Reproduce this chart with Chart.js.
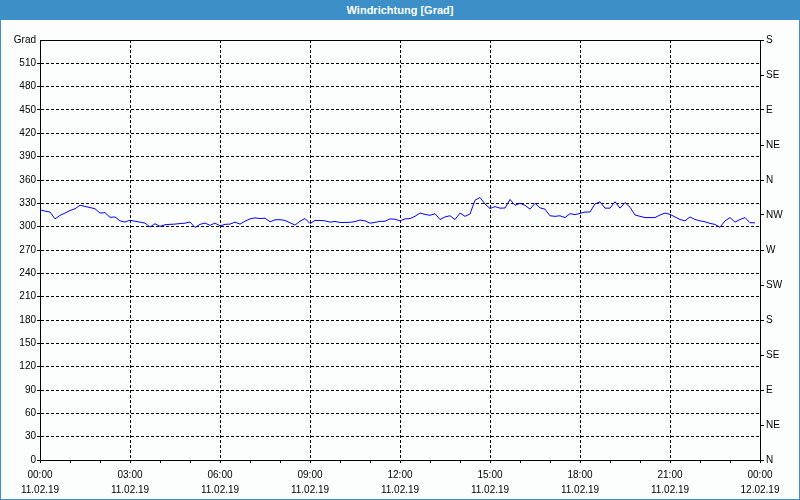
<!DOCTYPE html>
<html><head><meta charset="utf-8">
<script src="https://cdn.jsdelivr.net/npm/chart.js@4.4.1/dist/chart.umd.min.js"></script>
<style>
html,body{margin:0;padding:0;background:#fff}
#wrap{position:relative;width:800px;height:500px;background:#fcfefd;overflow:hidden}
#c{position:absolute;left:0;top:0}
#title{position:absolute;left:0;top:0;width:800px;height:20px;background:#3c8fc7;color:#fff;font:bold 11px "Liberation Sans",sans-serif;text-align:center;line-height:20px}
#frame{position:absolute;left:0;top:0;width:800px;height:500px;box-sizing:border-box;border:1px solid #3c8fc7;pointer-events:none}
</style></head>
<body>
<div id="wrap">
<canvas id="c" width="800" height="500"></canvas>
<div id="frame"></div>
<div id="title">Windrichtung [Grad]</div>
</div>
<script>
// Wind direction (degrees), one reading every 10 minutes from 11.02.19 00:00
const sampleMinutes = 10;
const windDirection = [
321.7,320.0,318.8,310.0,314.5,317.5,320.8,323.0,327.5,326.0,
324.6,323.0,317.5,318.0,312.0,312.5,307.5,306.0,308.3,307.0,
305.8,304.6,299.6,303.8,300.4,302.5,303.0,303.3,304.0,304.5,
306.0,299.0,303.0,304.6,301.7,304.6,301.0,303.0,303.3,305.8,
303.3,307.0,310.0,311.3,310.4,311.0,306.3,308.8,309.0,308.0,
305.0,302.0,307.0,310.5,304.0,308.0,308.0,307.5,305.8,306.7,
305.4,305.4,305.6,306.5,308.5,307.5,304.5,305.5,306.8,307.0,
310.0,309.6,307.5,310.0,310.4,313.3,317.5,315.8,314.6,316.7,
309.2,312.5,314.0,309.2,317.5,313.3,316.3,334.0,337.5,329.2,
323.3,325.8,323.8,324.0,335.0,327.5,330.0,327.5,322.5,330.0,
324.2,322.5,314.0,313.3,314.0,311.7,316.7,315.5,317.0,318.8,
318.8,329.2,332.0,323.8,323.8,332.0,323.8,331.0,325.0,315.0,
313.3,311.7,311.7,311.7,315.0,317.5,315.8,312.5,309.2,307.5,
312.5,309.2,307.5,306.3,304.2,302.9,299.2,307.5,311.7,305.8,
309.2,311.7,305.0,305.0
];
const yLeftTop = 540, yStep = 30, yLeftUnit = 'Grad';
const compassLabels = ['N','NE','E','SE','S','SW','W','NW','N','NE','E','SE','S'];
const compassStep = 45;
const xTickTimes = ['00:00','03:00','06:00','09:00','12:00','15:00','18:00','21:00','00:00'];
const xTickDates = ['11.02.19','11.02.19','11.02.19','11.02.19','11.02.19','11.02.19','11.02.19','11.02.19','12.02.19'];
const xMajorMinutes = 180, xMinorMinutes = 60, xSpanMinutes = 1440;

const points = windDirection.map((v, i) => ({x: i * sampleMinutes, y: v}));
const FONT = {family: '"Liberation Sans", sans-serif', size: 10};

const framePlugin = {
  id: 'frame',
  afterDraw(chart) {
    const {ctx, chartArea: a} = chart;
    ctx.save();
    ctx.strokeStyle = '#000'; ctx.lineWidth = 1;
    ctx.beginPath();
    ctx.moveTo(Math.round(a.left) + 0.5, Math.round(a.top) + 0.5);
    ctx.lineTo(Math.round(a.right) + 0.5, Math.round(a.top) + 0.5);
    ctx.stroke();
    ctx.restore();
  }
};

new Chart(document.getElementById('c'), {
  type: 'line',
  data: { datasets: [{ data: points, borderColor: '#0000ff', borderWidth: 1, pointRadius: 0, tension: 0, fill: false, yAxisID: 'y' }] },
  options: {
    responsive: false, animation: false,
    layout: { padding: { top: 40, left: 0, right: 0, bottom: 0 } },
    plugins: { legend: {display: false}, tooltip: {enabled: false}, title: {display: false} },
    scales: {
      x: {
        type: 'linear', min: 0, max: xSpanMinutes,
        afterFit(s) { s.height = 40; },
        border: { display: true, color: '#000', width: 1, dash: [3, 2] },
        grid: {
          color: c => (c.tick && c.tick.value % xMajorMinutes === 0 && c.tick.value > 0 && c.tick.value < xSpanMinutes) ? '#000' : 'rgba(0,0,0,0)',
          tickColor: '#000', lineWidth: 1, tickLength: 3, tickBorderDash: []
        },
        ticks: {
          stepSize: xMinorMinutes, autoSkip: false, maxRotation: 0, maxTicksLimit: 100,
          color: '#000', font: {...FONT, lineHeight: '15px'}, padding: 5,
          callback: v => v % xMajorMinutes === 0 ? [xTickTimes[v / xMajorMinutes], xTickDates[v / xMajorMinutes]] : ''
        }
      },
      y: {
        position: 'left', min: 0, max: yLeftTop,
        afterFit(s) { s.width = 40; },
        border: { display: true, color: '#000', width: 1, dash: [3, 2] },
        grid: {
          color: c => (c.tick && c.tick.value > 0 && c.tick.value < yLeftTop) ? '#000' : 'rgba(0,0,0,0)',
          tickColor: c => (c.tick && c.tick.value < yLeftTop) ? '#000' : 'rgba(0,0,0,0)',
          tickBorderDash: [3, 2], tickLength: 3, lineWidth: 1
        },
        ticks: {
          stepSize: yStep, maxTicksLimit: 100, color: '#000', font: FONT, padding: 1,
          callback: v => v === yLeftTop ? yLeftUnit : v
        }
      },
      y2: {
        position: 'right', min: 0, max: yLeftTop,
        afterFit(s) { s.width = 40; },
        border: { display: true, color: '#000', width: 1 },
        grid: { drawOnChartArea: false, tickColor: '#000', tickLength: 4, lineWidth: 1 },
        ticks: {
          stepSize: compassStep, maxTicksLimit: 100, color: '#000', font: FONT, padding: 2,
          callback: v => compassLabels[Math.round(v / compassStep)]
        }
      }
    }
  },
  plugins: [framePlugin]
});
</script>
</body></html>
